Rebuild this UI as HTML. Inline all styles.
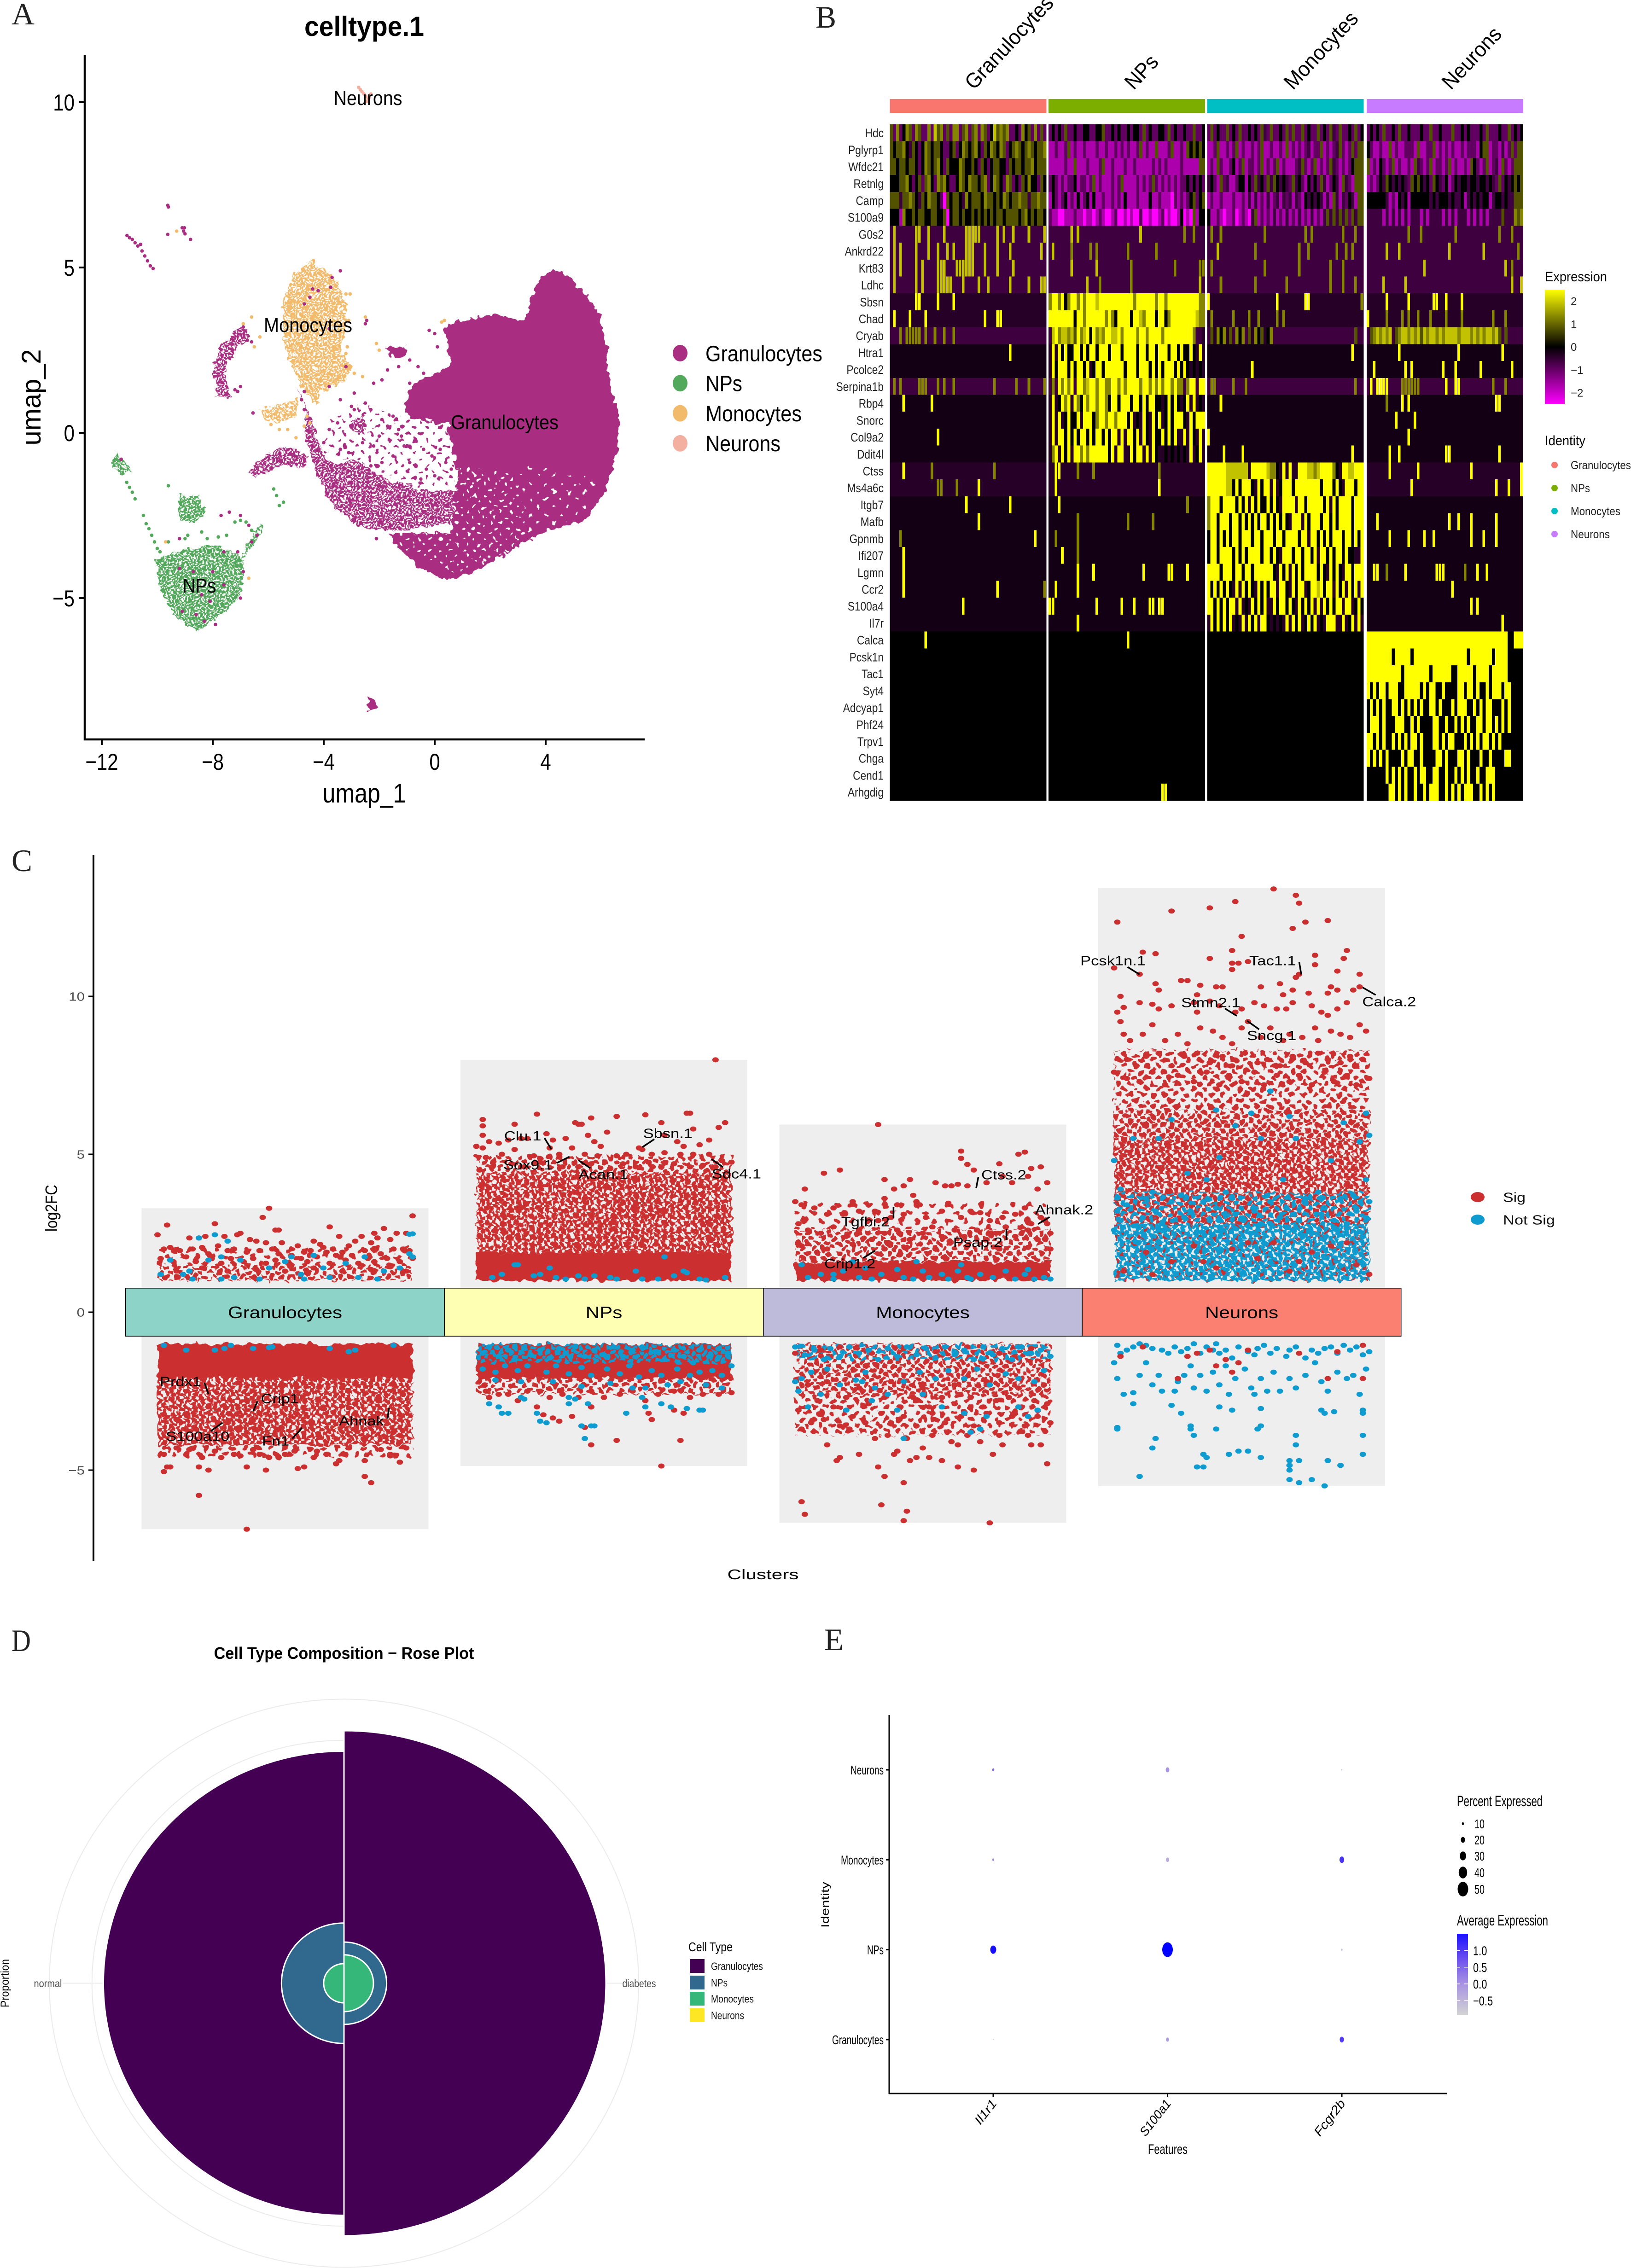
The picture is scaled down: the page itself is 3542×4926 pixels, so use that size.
<!DOCTYPE html>
<html lang="en"><head><meta charset="utf-8"><title>Single-cell figure panels A–E</title>
<style>html,body{margin:0;padding:0;background:#fff}svg{display:block}text{font-family:"Liberation Sans",sans-serif}</style></head>
<body>
<svg id="figure" xmlns="http://www.w3.org/2000/svg" width="3542" height="4926" viewBox="0 0 3542 4926">
<defs id="defs">
<linearGradient id="expr-grad" x1="0" y1="0" x2="0" y2="1"><stop offset="0" stop-color="#ffff00"/><stop offset=".5" stop-color="#000"/><stop offset="1" stop-color="#ff00ff"/></linearGradient>
<linearGradient id="avg-grad" x1="0" y1="0" x2="0" y2="1"><stop offset="0" stop-color="#1a10ff"/><stop offset=".3" stop-color="#6a4df0"/><stop offset=".62" stop-color="#a893e2"/><stop offset="1" stop-color="#d3d3d3"/></linearGradient>
<filter id="rough-a" filterUnits="userSpaceOnUse" x="0" y="0" width="3542" height="1800" color-interpolation-filters="sRGB"><feTurbulence type="fractalNoise" baseFrequency=".07" numOctaves="2" seed="4" result="n"/><feDisplacementMap in="SourceGraphic" in2="n" scale="20" xChannelSelector="R" yChannelSelector="G"/></filter>
<filter id="rough-c" filterUnits="userSpaceOnUse" x="0" y="1800" width="3542" height="1700" color-interpolation-filters="sRGB"><feTurbulence type="fractalNoise" baseFrequency=".06" numOctaves="2" seed="9" result="n"/><feDisplacementMap in="SourceGraphic" in2="n" scale="20" xChannelSelector="R" yChannelSelector="G"/></filter>
</defs>
<rect width="3542" height="4926" fill="#fff"/>
<g id="pa"></g>
<g id="pb"></g>
<g id="pc"></g>
<g id="pd"></g>
<g id="pe"></g>
</svg>
<script>
/* ===== Panel A data (umap_1, umap_2 pairs) ===== */
const umapXTicks=[-12,-8,-4,0,4];
const umapYTicks=[-5,0,5,10];
const umapCellTypes=['Granulocytes','NPs','Monocytes','Neurons'];
const granMainRegion=[4.30,4.94,5.05,4.54,5.89,3.66,6.17,2.54,6.30,1.42,6.64,.46,6.55,-.65,6.08,-1.85,5.33,-2.65,4.20,-2.89,3.08,-3.37,2.14,-3.85,1.20,-4.25,.36,-4.44,-.49,-4.09,-1.24,-3.53,-1.61,-3.08,-.68,-3.05,.64,-3.05,.83,-1.29,.73,-.81,.45,.30,-.86,.46,-1.09,.86,-.68,1.50,.08,1.82,.64,2.06,.45,2.86,.36,3.18,1.20,3.42,2.14,3.58,3.26,3.34,3.45,3.98,3.83,4.62];
const granArcRegion=[-4.95,1.42,-4.71,.78,-4.62,-.18,-4.24,-1.29,-3.68,-2.25,-2.55,-2.89,-1.43,-2.97,.64,-2.73,.83,-1.77,-.68,-1.69,-1.80,-1.37,-2.93,-.81,-3.68,-.97,-4.05,-.65,-4.43,.30];
const granSparseRegion=[-3.68,.46,-2.55,.94,-1.05,.46,.64,.14,.83,-1.61,-.68,-1.69,-2.93,-.81,-4.05,-.65];
const granSpeckleLower=[.83,-.97,3.08,-1.29,3.26,-3.37,.83,-4.3,-1.43,-3.39,-.68,-3.05,.64,-3.05];
const granSpeckleRight=[3.08,-.97,5.89,-1.29,5.33,-2.57,3.26,-3.05];
const granLeftArc=[-6.96,3.26,-6.59,2.86,-7.24,2.46,-7.58,1.90,-7.34,1.02,-7.80,1.02,-7.99,1.90,-7.71,2.62];
const granStreak=[-6.77,-1.13,-5.93,-.58,-5.37,-.42,-4.52,-.73,-4.71,-1.05,-5.55,-.97,-6.49,-1.37];
const granSmallA=[-1.71,2.54,-1.05,2.62,-1.15,2.30,-1.61,2.35];
const granSmallB=[-3.11,.30,-2.55,.62,-2.46,-.02,-2.93,.06];
const granBottom=[-2.40,-8.0,-1.99,-8.24,-2.36,-8.40];
const npsMainRegion=[-10.06,-3.85,-9.31,-3.61,-7.99,-3.37,-7.43,-3.53,-6.87,-3.85,-6.96,-4.97,-7.62,-5.45,-8.56,-6.01,-9.31,-5.61,-9.87,-4.81];
const npsUpperRegion=[-9.21,-1.85,-8.56,-1.90,-8.22,-2.41,-8.74,-2.81,-9.21,-2.65];
const npsArmRegion=[-6.87,-3.53,-6.30,-2.73,-6.12,-2.81,-6.49,-3.37,-6.96,-3.85];
const npsTipRegion=[-11.71,-.97,-11.46,-.61,-10.90,-1.13,-11.27,-1.29];
const monoMainRegion=[-4.43,5.22,-3.68,4.78,-3.21,3.98,-3.21,3.18,-3.40,2.54,-3.02,1.98,-3.30,1.50,-4.05,1.26,-4.24,.86,-4.71,1.26,-5.18,2.06,-5.46,2.70,-5.46,3.98,-5.08,4.78];
const monoSmallRegion=[-6.30,.70,-5.55,.86,-4.90,1.02,-4.99,.46,-5.74,.30,-6.12,.38];
const granDots=[-11.09,5.97,-11,5.9,-10.9,5.85,-10.8,5.75,-10.7,5.65,-10.55,5.5,-10.45,5.35,-10.35,5.2,-10.25,5.05,-10.15,4.97,-10.6,5.7,-9.62,6.88,-9.6,6.83,-9.62,6,-9.1,6.2,-9.05,6.1,-9,6.02,-9.02,6.2,-8.8,5.85,-3.8,1.4,-3,.8,-2.9,.7,-2.7,.2,-3.5,.3,-3.8,.1,-4,-.3,-3.4,-.5,-3.1,-.6,-2.6,-.3,-2.2,-.4,-2,-.1,-1.9,.4,-2.3,.7,-1.5,.5,-1.3,.1,-1.1,-.4,-.7,-.2,-.4,-.5,-.1,-.7,.2,-.5,.4,-.9,.6,-1.1,-.3,-1.1,-.9,-.9,-1.5,-.7,-1.9,-.9,-2.3,-1,-1.4,-1.2,-.5,-1.4,0,-1.3,-1.2,-.1,-1.7,.2,-2.9,1.2,-2.2,1.5,-1.7,1.9,-1.3,2,-.9,2.2,-.6,2,-.4,1.8,-.9,1.5,-1.9,1.6,-2.5,.9,-3.4,1,-.2,3.1,0,3,.1,2.6,.9,-1.4,1.6,-1.2,1.8,-.6,1.4,-.2,1.7,.1,1.5,-1.7,1.2,-2.1,.95,-2.6,1.3,-3.4,-.1,-3.3,-.3,-3.6,-2.1,-3.2,-6.9,3.2,-6.75,2.8,-6.6,2.75,-7.2,1.3,-7,1.4,-7.1,1.25,-6.55,.6,-4.5,4.1,-4.2,4.3,-4.4,4.35,-3.4,4.9,-3.7,4.7,-3.75,4.4,-4.7,3.9,-3.8,3.15,-3.2,2,-2.5,3.3,-2.45,3.4,-4.7,1.25,-4.8,1,-4.7,.7,-9.2,-3.2,-7.7,-2.5,-7.4,-2.4,-7,-2.5,-6.7,-2.8,-6.6,-3.3,-6.4,-3.1,-7.1,-3.6,-7.6,-3.6,-8,-4.2,-8.7,-4.2,-9.2,-4.1,-8.4,-4.9,-8.1,-5.1,-7.6,-4.6,-7,-5,-6.9,-4.2,-9.1,-5.4,-8.3,-5.7,-8.6,-5.5,-7.9,-5.8,-11.3,-.8];
const npsDots=[-11.1,-1.5,-11,-1.65,-10.9,-1.8,-10.8,-2,-10.5,-2.5,-10.4,-2.75,-10.3,-2.9,-10.2,-3.1,-10.1,-3.3,-10,-3.5,-9.9,-3.6,-9.6,-3.3,-9,-3.2,-8.9,-3.1,-8.4,-3,-8.2,-3.2,-7.8,-3.15,-7.5,-3.1,-7.2,-2.7,-7,-2.65,-6.8,-2.7,-6.6,-2.95,-9.6,-1.6,-5.8,-1.7,-5.7,-1.9,-5.6,-2.2,-5.45,-2.1];
const monoDots=[-3.1,3.4,-2.5,3.5,-2.1,2.7,-2,2.5,-6.9,3.3,-6.6,3.5,-6.3,2.9,-6.5,2.6,-4.5,.3,-4.6,.5,-5,-.15,-5.9,.25,-3,.8,-2.9,1.8,-2.6,1.7,-5.3,.1,-5.6,.1,-3.2,4.2,-3.05,4.2,-3.3,2.9,-3.15,2.6,-3.2,2.4,-4.7,.2,.25,3.35,.35,3.4,-9.3,6.1,-9.7,-3.3,-6.7,-4.4];
const neuronDots=[-2.74,10.45,-2.68,10.38,-2.62,10.32,-2.55,10.25,-2.48,10.18,-2.4,10.1,-2.35,10.15,-2.45,10.02,-2.3,10.25];
const umapLegendWidths=[254,80,209,163];

/* ===== Panel B data ===== */
const geneNames=['Hdc','Pglyrp1','Wfdc21','Retnlg','Camp','S100a9','G0s2','Ankrd22','Krt83','Ldhc','Sbsn','Chad','Cryab','Htra1','Pcolce2','Serpina1b','Rbp4','Snorc','Col9a2','Ddit4l','Ctss','Ms4a6c','Itgb7','Mafb','Gpnmb','Ifi207','Lgmn','Ccr2','S100a4','Il7r','Calca','Pcsk1n','Tac1','Syt4','Adcyap1','Phf24','Trpv1','Chga','Cend1','Arhgdig'];
const heatGroups=['Granulocytes','NPs','Monocytes','Neurons'];
const levelValues={'0':-2.5,'1':-1.7,'2':-.95,'3':-.62,'4':-.38,'x':-.2,'5':0,'6':.8,'7':1.3,'8':1.9,'9':2.5};
const rowBase=['2','2','2','2','2','2','3','3','3','3','4','4','3','x','x','3','x','x','x','x','4','4','x','x','x','x','x','x','x','x','5','5','5','5','5','5','5','5','5','5'];
/* a string lists per-column levels; an array lists the bright columns over the row base (negative = olive) */
const heatGran=["62725762762272867262772672672762586767225275627262","65667536525765665225625765675265765762567656765667","66566566525765675265557655652652566552656656675666","55566752562675276752257657665672576527625265755265","66636676536576652065665375666576656576566766366766","55517556566556655605665655656565656656666567565665",
[1,8,9,12,17,24,25,26,27,28,34,36,39,44,49],[1,3,8,12,15,18,20,24,25,26,30,34,38,48],[1,3,8,10,15,16,17,21,22,23,24,25,26,30,34,39],[1,8,10,15,16,17,18,19,23,28,31,38,44,48,49],
[8,9,15,20],[1,6,11,30,34,35],[-3,-5,-6,-7,-8,-9,-11,-14,-17,-20],[38],[],[-1,-3,-9,-10,-11,-15,-17,-20,-33,-40,-44,-49],[4,13],[],[15],[],[4,-13,-33],[-15,-16,-21,28],[24,38],[28],[-3,46],[4],[4],[4,34,-49],[23],[],
[11],[],[],[],[],[],[],[],[],[]];
const heatNPs=["25252622522552255622525225255262522552625225226225","11211261211211121121121212112612116111261121656565","11111211611121112611211121121111121212111121111166","25212122512212612111212611112121262121212122525252","15212512151251511211212151112111511211102121256256","21100111211011012100120010100200100120100150106155",
[7,9,29,-43,-46],[1,-7,-13,-15,-25,-34],[7,15,-26,-40,-48,-49],[12,-16,-26,48],
"79979579979799989999999999979999997997999999999977","99999999599799999979759999599879995995799999999877","38978878697895978799889799997997999979999999997334","49495955995959959995999599995995995999599595595494","49599959599594599599999959995999595959995959545454","37397979399789979977997979999799797979979773799399","49459794975979979975995999599595995545959545949454","49494595594999579979979995945495495945959995495999","49499595959959599595994949959495495595959449495494","47949594997979999995949944959949495445454545494594",
[2,3,-9,-14,-35],[2,35],[3,-44],[-9,-25,-33],[-2,-9],[4,-9],[9,14,30,38,39,44],[2,9],[0,1,15,23,27,32,33,35,36],[9],
[25],[],[],[],[],[],[],[],[],[36,37]];
const heatMono=["26252262526225252632622526262262522625263262252625","11261121261211212611211216121212312261212362126266","12162112512612212612126121112362126121263212125666","35216231125515263526365353263521525263125316321666","12112111211213131213123132313215353531316313253166","51121011201210361212131213121312131213636363626366",
[-1,-4,-18,-31,-33,-43,-47],[3,-15,-29,-32,-41,-44,-46],[-1,-18,-29,-39,-43],[-4,-15,-25,-39,-43,-47],
[-0,22,31,32,-49],[-1,-8,-13,-16,-22,-24],"36475746375736475645733333333333333333333333333633",[46],[14],[-1,-2,-8,-12,-47],[4],[],[0],[5,11,46],
"99999988888884999998775494944999887899997549988999","99999988595999549599494599959999999959995954999599","79995999959594959559595499994995999995949599995999","79959995995959595995959595499949599959959599995999","59959595995999599599959959999599499595959995995959","59959999595959999599595499959959959499595995955449","99995999599599599999954959495959999595495954995999","95959595494959549595994995495994599895994959495949","99595959949454959594495995954959594949595994994595","49595959454949594995454549495945959454999449459494",
[],[],[],[],[],[],[],[],[],[]];
const heatNeurons=["25252622526225222522622522262252522252622252262525","52112116121122216112261212121121222156612213126266","61215212612112163212612212612112165212612316212666","12125365353532656535265325125355355355353262535656","55555531215351555555353555353351353535513553533666","33333131313131333131333313131333131313133336333767",
[-13,-17,-28,-42,-46],[6,10,26,37,-48],[18,44,-46],[5,12,46,49],
[6,13,21,22,25,30],[-0,-6,-11,-13,-16,-20,-25,-30,-40,-44],"36787878367887878687887878888788878787887863633333",[10,29,43],[2,12,14,24,28,36,46],[1,3,4,5,6,-11,-12,-13,-14,-15,-16,25,28,29,-40,-44],[-6,11,13,41,42],[9,15],[13],[7,10,25,26,42],
[7,16,33,49],[14,41,45,49],[],[3,26,29,33,41],[7,13,18,21,33,37,41],[],[2,3,-6,12,22,23,24,-31,35,38],[27],[33,35],[43],
"99999999999999999999999999999999999999999999955999","99999999599999599999999999999999599999995999955555","99999999999599999999599999955999995999959999955555","95959959995599999595995595555995995955959995995555","59595955995959595955995955595999559595995559595555","59995955599955959555599559559595955995995959595555","99595955959595995955599595995559595959959595555555","95959595555959955955559959555995955595595555995555","55555595959595595995599559559595955955999555555555","55555559959595595595999559595959995595959555555555"];
const exprTicks=[2,1,0,-1,-2];

/* ===== Panel C data: flat [jitter %, log2FC] pairs ===== */
const clusterNames=['Granulocytes','NPs','Monocytes','Neurons'];
const volcanoTicks=[-5,0,5,10];
const clusterTop=[3.29,7.99,5.94,13.43];
const clusterBottom=[-6.87,-4.87,-6.67,-5.51];
/* dense clouds summarised as bands: column, log2FC range, series, share of area covered */
const bandColumn=[0,0,0,0,0, 1,1,1,1,1,1, 2,2,2,2,2,2, 3,3,3,3,3,3,3];
const bandLow=[1,1.45,-1,-2.1,-4.2, 1,1.9,4.4,-1,-2.1,-1, 1,1.6,2.6,-1,-1,-2.6, 3.8,5.5,6.4,2.8,2.8,1,1];
const bandHigh=[1.45,2.1,-2.1,-4.2,-4.6, 1.9,4.4,4.95,-2.1,-2.6,-1.6, 1.6,2.6,3.5,-2.6,-1.5,-3.9, 5.5,6.4,8.3,3.8,3.8,2.8,2.8];
const bandSeries=['sig','sig','sig','sig','sig', 'sig','sig','sig','sig','sig','not', 'sig','sig','sig','sig','not','sig', 'sig','sig','sig','sig','not','sig','not'];
const bandDensity=[.55,.25,1,.95,.3, 1,.95,.5,1,.5,.6, 1,.5,.2,.6,.35,.35, .85,.6,.38,.8,.4,.35,.9];
const granUpSig=[-5,3.29,-7,3,40,3.05,-37,2.76,-22,2.8,-40,2.45,-14,2.5,14,2.7,31,2.65,28,2.5,-3,2.6,-2,2.6,17,2.4,24,2.4,29,2.35,35,2.5,38,2.5,-30,2.35,-27,2.35,-25,2.4,-19,2.4,-15,2.45,-11,2.3,-9,2.25,-6,2.2,-1,2.2,4,2.1,9,2.25,11,2.15,15,2,20,2.1,22,2.25,27,2.2,33,2.3,37,2,-38,2,-36,2.05,-33,1.95,-29,2,-26,2.05,-24,1.85,-21,2.1,-18,1.95,-16,2,-12,1.9,-8,1.95,-4,2,-2,1.85,2,1.8,6,1.9,8,1.95,12,2.05,13,1.9,16,1.8,18,1.9,21,1.8,25,1.95,30,1.85,34,2,39,1.95,-39,1.7,-35,1.6,-31,1.75,-28,1.6,-23,1.7,-20,1.55,-17,1.7,-13,1.6,-10,1.7,-6,1.55,-3,1.65,1,1.55,5,1.7,7,1.6,10,1.75,14,1.55,19,1.65,23,1.55,26,1.7,28,1.6,32,1.7,36,1.6,40,1.7,-34,1.3,-26,1.4,-18,1.3,-9,1.35,0,1.3,9,1.4,18,1.3,27,1.35,38,1.3];
const granUpNot=[-27,2.35,-22,2.45,-18,2.25,40,2.48,39,2.47,-36,1.65,-39,1.2,-32,1.2,-30,1.3,-24,1.65,-20,1.75,-14,1.65,-5,1.4,0,1.6,2,1.75,9,1.8,12,1.4,19,1.55,25,1.75,31,1.3,36,1.4,40,1.75,-29,1.05,-20,1.05,-16,1.1,-8,1.05,5,1.2,6,1.05,14,1.1,23,1.1,29,1.05,39,1.85];
const granDownSig=[-38,-4.5,-37,-4.9,-36,-4.9,-38,-5.05,-27,-4.9,-24,-5,-26,-4.6,-20,-4.6,-16,-4.5,-14,-4.55,-12,-4.9,-8,-4.5,-5,-4.6,-6,-5,-2,-4.6,0,-4.5,4,-4.95,6,-4.9,9,-4.6,13,-4.5,16,-4.8,17,-4.7,25,-4.7,25,-5.2,27,-5.4,33,-4.5,33,-4.55,36,-4.75,-27,-5.8,-12,-6.87,-34,-4.3,-30,-4.35,-22,-4.4,-10,-4.35,3,-4.4,10,-4.4,20,-4.3,30,-4.35,38,-4.3,-34,-3.4,-28,-3.7,-24,-3,-18,-3.5,-12,-2.8,-8,-3.2,-2,-3.7,3,-2.7,8,-3.5,12,-3,18,-3.6,22,-2.9,28,-3.3,34,-3.8,37,-2.6];
const granDownNot=[-38,-1.05,-31,-1.2,-22,-1.2,-19,-1.15,-17,-1.05,-10,-1.15,-5,-1.12,-4,-1.1,14,-1.15,20,-1.25,22,-1.2,34,-1.05];
const npUpSig=[35,7.99,-38,6.1,-38,5.9,-38,5.6,-28,5.95,-21,6.27,-9,6,-8,5.95,-7,5.95,4,6.2,13,6.25,26,6.3,27,6.3,18,6,28,5.8,36,5.85,38,6,-4,6.15,-40,5.25,-38,5.2,-36,5.4,-33,5.35,-30,5.45,-26,5.5,-24,5.5,-18,5.65,-16,5.45,-12,5.5,-5,5.6,-3,5.4,1,5.7,-1,5.25,11,5.2,12,5.15,19,5.6,23,5.4,25,5.25,30,5.3,33,5.45,-37,4.9,-32,5,-28,5.15,-22,4.95,-17,5.2,-14,5,-10,5.2,-6,5,-2,4.95,4,4.95,7,5,15,5,19,5.05,24,5,28,5,33,5,37,4.8,40,4.75,-35,4.6,-29,4.7,-25,4.6,-20,4.75,-13,4.6,-8,4.6,-4,4.7,2,4.55,6,4.7,10,4.6,14,4.75,18,4.6,22,4.7,27,4.6,31,4.65,35,4.6,-39,4.5,-38,4.05,-33,3.6,-26,3.3,-20,4,-12,3.2,-6,3.6,3,3.05,10,3.4,18,3.2,26,3.7,33,2.8];
const npUpNot=[-35,1.1,-32,1.2,-28,1.5,-27,1.5,-22,1.15,-20,1.2,-17,1.4,-15,1.1,-6,1.05,-3,1.15,2,1.1,4,1.05,10,1.3,12,1.05,17,1.05,19,1.75,22,1.15,25,1.3,26,1.25,30,1.05,32,1.02,38,1.1,-12,1.05,-8,1.15];
const npDownSig=[-37,-2.5,-36,-2.7,-33,-2.6,-30,-2.6,-27,-2.8,-24,-2.5,-20,-2.5,-17,-2.7,-13,-2.6,-8,-2.7,-4,-2.5,0,-2.7,5,-2.6,9,-2.5,13,-2.8,17,-2.6,22,-2.5,27,-2.7,31,-2.6,36,-2.6,40,-2.55,-21,-3,-19,-3.25,-16,-3.35,-14,-3.45,-10,-3.3,-4,-3,-4,-3,14,-3.2,15,-3.4,22,-3.1,25,-3.2,-4,-3,-6,-3.65,4,-4.06,-4,-4.2,24,-4.06,18,-4.87];
const npDownNot=[-38,-1.3,-36,-1.1,-33,-1.4,-30,-1.2,-28,-1.5,-25,-1.15,-23,-1.35,-20,-1.2,-17,-1.45,-14,-1.15,-12,-1.3,-9,-1.1,-6,-1.4,-3,-1.2,0,-1.35,3,-1.1,6,-1.4,9,-1.2,12,-1.1,16,-1.25,19,-1.5,22,-1.2,25,-1.4,28,-1.6,30,-1.2,33,-1.4,36,-1.15,39,-1.3,-38,-1.8,-34,-1.9,-31,-1.7,-27,-1.85,-24,-1.7,-18,-1.9,-15,-1.7,-11,-1.95,-7,-1.75,-4,-2,1,-1.8,5,-1.95,8,-1.7,11,-2.05,15,-1.85,18,-2,23,-1.8,27,-2,30,-1.9,34,-1.85,37,-2,40,-1.7,-34,-2.15,-26,-2.2,-16,-2.2,-7,-2.35,2,-2.25,9,-2.4,13,-2.4,20,-2.3,24,-2.2,32,-2.3,37,-2.4,-36,-2.9,-33,-3,-32,-3.2,-30,-3.2,-26,-2.7,-25,-2.75,-21,-3.2,-20,-3.45,-18,-3.5,-11,-2.7,-11,-2.9,-9,-2.75,-5,-2.9,7,-3.2,12,-2.7,13,-3,18,-2.9,21,-3,26,-3.05,30,-3.1,31,-3.1,-7,-3.6,-7,-3.6,-6,-4,-4,-3.6,-3,-3.6];
const monoUpSig=[-14,5.94,12,5.1,32,5.07,30,5,12,4.87,14,4.68,16,4.5,-31,4.4,-26,4.5,24,4.7,34,4.55,37,4.6,39,4.1,-37,3.9,-40,3.5,-38,3.4,-22,3.5,-12,4.2,-12,3.6,-9,3.9,-6,4,-4,4.2,-3,3.7,-2,3.5,-8,3.4,4,4.1,7,4,9,4,11,4.05,14,4,20,4.1,25,4.3,28,4.1,33,4.3,36,3.9,-34,3.3,-30,3.1,-28,3.3,-25,3.1,-20,3.2,-15,3.2,-14,2.9,-10,3,-6,3.1,-1,3.4,1,3,6,3.2,8,3.45,12,3,15,3.2,18,3.15,21,2.9,25,3,29,3.1,32,3.3,34,2.8,37,3,39,2.8,-39,2.8,-36,2.6,-32,2.5,-28,2.7,-24,2.4,-20,2.6,-16,2.3,-12,2.5,-8,2.6,-4,2.3,0,2.5,3,2.7,6,2.4,10,2.6,13,2.4,17,2.6,20,2.3,23,2.5,26,2.7,29,2.4,33,2.6,36,2.3,40,2.5,-38,2.1,-30,2,-22,2.15,-12,2,-5,2.05,4,2,14,2.1,24,2,33,2.05,40,2];
const monoUpNot=[-36,1.1,-32,1.2,-28,1.05,-25,1.3,-22,1.6,-20,1.1,-16,1.05,-13,1.2,-8,1.35,-6,1.1,-3,1.05,0,1.3,2,1.1,6,1.2,8,1.05,11,1.3,14,1.1,15,1.05,18,1.2,22,1.1,26,1.3,29,1.05,32,1.2,35,1.05,38,1.1,40,1.05,-38,1.5,-2,1.6,-28,1.2,-18,1.4,12,1.5,33,1.35];
const monoDownSig=[-12,-5.2,-38,-6,-37,-6.4,-13,-6.1,-6,-6.6,-5,-6.3,21,-6.67,-6,-5.4,16,-5,6,-4.7,-14,-4.9,-9,-4.5,-8,-4.4,-4,-4.7,-2,-4.6,2,-4.6,6,-4.7,11,-4.9,22,-4.5,34,-4.2,39,-4.8,-30,-4.2,-27,-4.7,-26,-4.6,-23,-3.7,-20,-4.5,-15,-4,-11,-3.9,-5,-4,0,-4.3,3,-3.9,9,-4.1,11,-4.2,14,-3.9,18,-4.1,24,-3.9,25,-4.2,33,-3.9,37,-4.2,-38,-3.7,-35,-3.5,-31,-3.4,-26,-3.6,-22,-3.3,-18,-3.5,-13,-3.2,-10,-3.5,-6,-3.3,-2,-3.6,3,-3.2,7,-3.5,12,-3.3,16,-3.6,20,-3.2,24,-3.5,28,-3.3,32,-3.6,36,-3.3,40,-3.5,-39,-3.1,-33,-2.8,-28,-3,-24,-2.7,-17,-2.9,-12,-2.7,-7,-3,-3,-2.7,2,-3,6,-2.7,10,-2.9,15,-2.7,19,-3,23,-2.8,27,-2.7,31,-3,35,-2.8,39,-2.9,-36,-2.3,-30,-2.2,-20,-2.4,-10,-2.2,0,-2.4,10,-2.3,20,-2.2,30,-2.4,38,-2.3,-40,-1.3,-32,-1.2,-26,-1.1,-16,-1.3,-6,-1.15,4,-1.25,14,-1.1,24,-1.3,34,-1.15];
const monoDownNot=[-40,-1.1,-37,-1.35,-34,-1.2,-31,-1.5,-29,-1.15,-26,-1.4,-23,-1.1,-20,-1.3,-17,-1.2,-14,-1.5,-11,-1.15,-8,-1.4,-5,-1.1,-2,-1.35,1,-1.15,4,-1.45,7,-1.1,10,-1.35,13,-1.2,16,-1.5,19,-1.1,22,-1.35,25,-1.15,28,-1.5,31,-1.1,34,-1.3,37,-1.2,40,-1.4,-38,-2.1,-35,-1.9,-30,-1.8,-26,-2.3,-21,-2.15,-18,-1.9,-19,-2.2,-15,-2.4,-11,-2.6,-6,-2.2,-1,-1.9,4,-2.1,8,-1.85,13,-2.1,17,-1.8,21,-2.3,26,-1.95,30,-2.1,35,-2.2,38,-1.85,-39,-2.5,-36,-3,-32,-2.6,-24,-3.1,-16,-2.8,-8,-3.1,0,-2.6,6,-3,13,-3.2,20,-3.3,30,-3,33,-3.3,36,-3.1,-6,-4,15,-3.8,18,-3.7,-40,-2.2];
const neurUpSig=[10,13.4,17,13.2,18,12.95,-2,13,-10,12.8,-22,12.7,-39,12.35,20,12.35,27,12.4,16,12.15,0,11.9,33,11.45,-3,11.45,23,11.3,-31,11.4,-27,11.35,-10,11.2,32,11.2,23,11,-40,10.9,-3,11.05,-1,11.05,-3,10.85,2,11.1,30,10.8,37,10.7,17,10.6,18,10.7,-32,10.7,-27,10.4,-26,10.2,-19,10.5,-17,10.5,-13,10.35,-14,10.05,-8,10.3,-6,10.3,6,10.3,12,10.4,13,10.05,16,10.2,21,10.1,27,10.1,28,10.3,30,10.2,35,10.2,37,10.3,-38,10,-37,9.65,-32,9.8,-28,9.75,-26,9.6,-22,9.7,-15,9.8,-14,9.5,-10,9.85,-7,9.7,-2,9.5,0,9.6,4,9.8,7,9.7,11,9.6,14,9.6,16,9.8,22,9.7,25,9.5,27,9.4,30,9.6,33,9.8,-39,9.5,-38,9.2,-37,8.8,-35,8.6,-31,8.8,-28,9.1,-24,8.6,-20,8.8,-17,8.5,-13,9,-9,8.9,-6,8.7,-3,8.5,0,9,2,9.2,6,8.7,9,9,13,8.6,15,8.8,19,8.7,23,9,24,8.6,28,8.9,31,8.8,34,8.7,37,9.1,39,8.9,-36,8,-33,7.8,-30,8.1,-26,8.2,-22,7.8,-18,8.1,-14,8.2,-10,7.9,-6,8.1,-3,7.8,1,8.2,5,7.9,8,8,12,7.8,16,8.1,20,7.9,24,8.2,27,8,31,7.9,34,8.1,38,8,-40,7.6,-36,7.4,-32,7.3,-28,7.6,-24,7.2,-20,7.5,-15,7.3,-11,7.6,-7,7.2,-4,7.5,0,7.3,4,7.6,7,7.2,11,7.5,15,7.3,18,7.5,22,7.2,26,7.6,29,7.3,33,7.5,36,7.2,40,7.4];
const neurUpNot=[9,7,-22,6.1,-8,6.4,-2,5.9,3,6.3,15,6.2,32,6,39,6.3,-40,4.8,-34,5.5,-26,5.5,-17,4.4,-7,4.9,6,5.5,17,5.5,28,4.8,37,5.4,40,5.6,-38,3.9,-28,3.8,-19,3.7,-11,4.2,-5,3.8,8,3.7,13,4.2,24,3.8,35,3.7,39,4.2,-39,3.2,-36,3.4,-30,3.6,-27,3.2,-22,3.5,-16,3.2,-12,3.5,-8,3.3,-3,3.6,4,3.2,9,3.5,14,3.3,20,3.6,26,3.3,31,3.6,36,3.2,40,3.5,-38,2.9,-31,3,-25,2.8,-18,3,-10,2.9,-2,3.1,6,2.8,12,3,18,2.9,25,3.1,33,2.8,39,3,-40,2.6,-33,2.5,-26,2.6,-14,2.55,-6,2.6,3,2.5,16,2.6,22,2.5,30,2.6,37,2.55];
const neurUpSigLow=[-37,1.3,-30,1.9,-22,1.6,-15,2.1,-8,1.4,-3,2,5,1.7,10,2.2,15,1.3,22,1.9,28,2.1,36,1.5,-28,1.2,-12,1.6,2,2.2,18,1.6,33,2.2,40,1.2];
const neurDownNot=[-39,-1.05,-38,-1.3,-36,-1.2,-34,-1.1,-32,-1,-30,-1.05,-28,-1.15,-25,-1.2,-23,-1.3,-21,-1.1,-19,-1.25,-17,-1.15,-15,-1,-13,-1.3,-11,-1.1,-9,-1.2,-8,-1,-7,-1.3,-5,-1.2,-3,-1.45,-1,-1.1,2,-1.25,4,-1.35,5,-1.15,7,-1.05,9,-1.3,11,-1.15,14,-1.4,15,-1.2,17,-1.1,20,-1.45,22,-1.2,24,-1.3,26,-1.15,28,-1.1,30,-1.3,32,-1.05,34,-1.2,36,-1.1,38,-1.35,40,-1.25,-40,-1.6,-39,-2.1,-37,-2.6,-34,-2.55,-32,-2,-30,-1.6,-28,-2.3,-26,-2,-25,-2.5,-21,-2.5,-20,-2.2,-18,-2,-16,-1.7,-15,-2.4,-13,-2,-11,-2.5,-9,-1.9,-7,-2.3,-5,-1.7,-4,-2.6,-2,-2.1,1,-1.8,3,-2.4,4,-2.6,6,-2.1,8,-2.5,10,-1.9,12,-2.5,15,-2.1,17,-2.4,20,-2,23,-1.6,25,-2.2,27,-2.5,30,-1.9,33,-2.1,35,-2,37,-2.6,39,-1.8,-34,-2.9,-22,-2.95,-19,-3.2,-7,-3,-3,-3.1,6,-3.05,25,-3.1,26,-3.2,29,-3.15,38,-3.1,38,-3.2,-39,-3.7,-39,-3.65,-16,-3.6,-16,-3.7,-15,-3.9,-8,-3.7,5,-3.7,6,-3.6,17,-3.9,17,-4.2,38,-3.9,-27,-4,-28,-4.3,-12,-4.5,-11,-4.6,-4,-4.5,-1,-4.4,2,-4.4,6,-4.6,15,-4.7,15,-4.85,18,-4.7,27,-4.7,31,-4.85,38,-4.5,-32,-5.2,-14,-4.9,-12,-4.9,15,-5,15,-5.3,18,-5.4,22,-5.3,26,-5.5,31,-4.85];
const neurDownSig=[-31,-1.1,-17,-1.4,-14,-1.3,-10,-1.2,-8,-1.7,-5,-1.5,-3,-1.9,2,-1.2,18,-1.3,27,-2.1,38,-1.05,-38,-1.4,30,-1.25,-20,-2.1,-1,-1.6,38,-2.1];
const sigLegendLabels=['Sig','Not Sig'];

/* ===== Panel D data: stacked share per condition, order Granulocytes, NPs, Monocytes, Neurons ===== */
const roseTypes=['Granulocytes','NPs','Monocytes','Neurons'];
const roseNormal=[.605,.143,.069,0];
const roseDiabetes=[.744,.045,.1,0];
const roseGrid=[1,.855];

/* ===== Panel E data ===== */
const dotFeatures=['Il1r1','S100a1','Fcgr2b'];
const dotIdentities=['Neurons','Monocytes','NPs','Granulocytes'];
const dotPercentNeurons=[10,17,5];
const dotPercentMonocytes=[9,15,22];
const dotPercentNPs=[28,50,7];
const dotPercentGranulocytes=[4,14,20];
const dotAvgNeurons=[.4,-.1,-.7];
const dotAvgMonocytes=[0,-.4,.95];
const dotAvgNPs=[1.35,1.5,-.6];
const dotAvgGranulocytes=[-.7,-.2,.9];
const percentLegend=[10,20,30,40,50];
const avgLegend=[1,.5,0,-.5];

/* ===== drawing ===== */
const NS='http://www.w3.org/2000/svg';
const $=id=>document.getElementById(id);
function mk(tag,attrs,parent){const e=document.createElementNS(NS,tag);for(const k in attrs)e.setAttribute(k,attrs[k]);parent.appendChild(e);return e;}
function txt(parent,name,x,y,s,o){o=o||{};
  const t=mk('text',{'font-size':o.size||30,fill:o.fill||'#000','text-anchor':o.anchor||'start','font-weight':o.bold?'bold':'normal'},parent);
  
  
  if(o.italic)t.setAttribute('font-style','italic');
  if(o.serif)t.style.fontFamily='"Liberation Serif",serif';
  if(o.mid)t.setAttribute('dy','.36em');
  t.textContent=s;
  let sx=o.sq||1;
  if(o.w){const len=t.getComputedTextLength();if(len>0)sx=o.w/len;}
  t.setAttribute('transform','translate('+x+','+y+') rotate('+(o.rot||0)+') scale('+sx+',1)');
  return t;}
function line(parent,name,x1,y1,x2,y2,w,c){const l=mk('line',{x1:x1,y1:y1,x2:x2,y2:y2,stroke:c||'#000','stroke-width':w||4},parent);
  
  
  return l;}
function dot(parent,name,cx,cy,rx,ry,c){const d=mk('ellipse',{cx:cx,cy:cy,rx:rx,ry:ry,fill:c},parent);
  
  
  return d;}
function box(parent,name,x,y,w,h,c){const r=mk('rect',{x:x,y:y,width:w,height:h,fill:c},parent);
  
  
  return r;}
/* fill for a region whose points cannot be told apart: staggered dots covering the given share of the area */
let patternCount=0;
function densityFill(color,density,rx,ry){
  if(density>=.97)return color;
  const s=Math.sqrt(2*Math.PI*rx*ry/density),id='density-'+(patternCount++);
  const p=mk('pattern',{id:id,patternUnits:'userSpaceOnUse',width:s.toFixed(2),height:s.toFixed(2)},$('defs'));
  mk('ellipse',{cx:(s*.25).toFixed(2),cy:(s*.25).toFixed(2),rx:rx,ry:ry,fill:color},p);
  mk('ellipse',{cx:(s*.75).toFixed(2),cy:(s*.75).toFixed(2),rx:rx,ry:ry,fill:color},p);
  return 'url(#'+id+')';}

/* panel letters */
const letterRoot=$('figure');
txt(letterRoot,'panel-label-a',25,53,'A',{size:68,serif:1,w:50,fill:'#222'});
txt(letterRoot,'panel-label-b',1771,60,'B',{size:68,serif:1,w:45,fill:'#222'});
txt(letterRoot,'panel-label-c',25,1892,'C',{size:68,serif:1,w:45,fill:'#222'});
txt(letterRoot,'panel-label-d',25,3586,'D',{size:68,serif:1,w:42,fill:'#222'});
txt(letterRoot,'panel-label-e',1790,3584,'E',{size:68,serif:1,w:42,fill:'#222'});

/* ---- A ---- */
(function(){const P=$('pa');
const xU=u=>944+60.25*u, yU=v=>940-71.8*v;
const C={g:'#A92E82',n:'#52A85B',m:'#F2BB6C',r:'#F3B0A0'};
const R=mk('g',{filter:'url(#rough-a)'},P);


function region(arr,c,name,density,rad){let d='';for(let i=0;i<arr.length;i+=2)d+=(i?'L':'M')+xU(arr[i]).toFixed(1)+' '+yU(arr[i+1]).toFixed(1);
  const solid=density>=.97;
  const p=mk('path',{d:d+'Z',fill:densityFill(c,density,rad||3.8,rad||3.8)},R);
  if(solid){p.setAttribute('stroke',c);p.setAttribute('stroke-width',3);}
  
  }
function pts(arr,c,name){for(let i=0;i<arr.length;i+=2)dot(P,name,xU(arr[i]).toFixed(1),yU(arr[i+1]).toFixed(1),3.8,3.8,c);}
region(granMainRegion,C.g,'granulocytes-main-cluster',1);
region(granSpeckleLower,'#fff','granulocytes-speckle-lower',.1,3);
region(granSpeckleRight,'#fff','granulocytes-speckle-right',.05,3);
region(granArcRegion,C.g,'granulocytes-arc-cluster',.92);
region(granSparseRegion,C.g,'granulocytes-sparse-cloud',.12);
region(granLeftArc,C.g,'granulocytes-left-arc',.92);
region(granStreak,C.g,'granulocytes-streak',.92);
region(granSmallA,C.g,'granulocytes-small-cluster',1);
region(granSmallB,C.g,'granulocytes-small-cluster',.85);
region(granBottom,C.g,'granulocytes-bottom-cluster',1);
region(npsMainRegion,C.n,'nps-main-cluster',.95);
region(npsUpperRegion,C.n,'nps-upper-cluster',.88);
region(npsArmRegion,C.n,'nps-arm-cluster',.8);
region(npsTipRegion,C.n,'nps-tip-cluster',.9);
region(monoMainRegion,C.m,'monocytes-main-cluster',.93);
region(monoSmallRegion,C.m,'monocytes-small-cluster',.8);
pts(npsDots,C.n,'nps-point');
pts(monoDots,C.m,'monocytes-point');
pts(granDots,C.g,'granulocytes-point');
pts(neuronDots,C.r,'neurons-point');
line(P,'umap-y-axis',184,120,184,1608,4.5);
line(P,'umap-x-axis',182,1606,1400,1606,4.5);
umapXTicks.forEach(t=>{line(P,'umap-x-tick',xU(t),1606,xU(t),1618,4);
  txt(P,'umap-x-tick-label',xU(t),1672,String(t).replace('-','−'),{size:50,sq:.84,anchor:'middle'});});
umapYTicks.forEach(t=>{line(P,'umap-y-tick',172,yU(t),184,yU(t),4);
  txt(P,'umap-y-tick-label',162,yU(t),String(t).replace('-','−'),{size:50,sq:.84,anchor:'end',mid:1});});
txt(P,'umap-title',791,78,'celltype.1',{size:60,bold:1,w:260,anchor:'middle'});
txt(P,'umap-x-axis-title',791,1743,'umap_1',{size:58,w:181,anchor:'middle'});
txt(P,'umap-y-axis-title',88,863,'umap_2',{size:58,w:209,anchor:'middle',rot:-90});
txt(P,'cluster-label-neurons',799,212,'Neurons',{size:44,w:149,anchor:'middle',mid:1});
txt(P,'cluster-label-monocytes',669,705,'Monocytes',{size:44,w:192,anchor:'middle',mid:1});
txt(P,'cluster-label-granulocytes',1096,916,'Granulocytes',{size:44,w:234,anchor:'middle',mid:1});
txt(P,'cluster-label-nps',433,1271,'NPs',{size:44,w:73,anchor:'middle',mid:1});
[C.g,C.n,C.m,C.r].forEach((c,i)=>{const y=767+i*65.3;dot(P,'umap-legend-swatch',1477,y,16,18,c);
  txt(P,'umap-legend-label',1532,y,umapCellTypes[i],{size:48,w:umapLegendWidths[i],mid:1});});
})();

/* ---- B ---- */
(function(){const P=$('pb');
const groupX=[1932.5,2277,2621.5,2968],groupW=340,cols=50,top=270,rowH=36.72,hitW=5.6;
const barC=['#F8766D','#7CAE00','#00BFC4','#C77CFF'];
const groupAnchor=[2115,2462,2808,3151];
function levelColor(v){const a=Math.min(1,Math.abs(v)/2.5),n=Math.round(255*a);return v>=0?'rgb('+n+','+n+',0)':'rgb('+n+',0,'+n+')';}
const data=[heatGran,heatNPs,heatMono,heatNeurons];
const cw=groupW/cols;
function cell(x,y,w,lv){const c=mk('rect',{x:x.toFixed(1),y:y.toFixed(1),width:w.toFixed(1),height:(rowH+.5).toFixed(1),fill:levelColor(levelValues[lv]),'shape-rendering':'crispEdges'},P);
  
  }
data.forEach((grp,g)=>{
  box(P,'heatmap-group-bar-'+heatGroups[g].toLowerCase(),groupX[g],215,groupW,30,barC[g]);
  txt(P,'heatmap-group-label-'+heatGroups[g].toLowerCase(),groupAnchor[g],197,heatGroups[g],{size:46,rot:-47,sq:.95});
  grp.forEach((row,r)=>{
    for(let c=0;c<cols;c++){
      const x=groupX[g]+c*cw,y=top+r*rowH;
      if(typeof row==='string'){cell(x,y,cw,row[c]||rowBase[r]);continue;}
      cell(x,y,cw,rowBase[r]);
      if(row.indexOf(c)>=0)cell(x,y,hitW,r<10?'8':'9');
      else if(c>0&&row.indexOf(-c)>=0)cell(x,y,hitW,'7');
    }
  });
});
geneNames.forEach((n,r)=>txt(P,'gene-label',1919,top+(r+.5)*rowH,n,{size:27,sq:.84,anchor:'end',mid:1,fill:'#222'}));
txt(P,'expression-legend-title',3355,611,'Expression',{size:30,w:135});
const bar=mk('rect',{x:3355,y:629,width:43,height:249,fill:'url(#expr-grad)'},P);


exprTicks.forEach(t=>{const y=753.5-t*49.8;
  txt(P,'expression-tick-label',3411,y,String(t).replace('-','−'),{size:24,anchor:'start',mid:1,fill:'#222'});});
txt(P,'identity-legend-title',3355,967,'Identity',{size:30,w:88});
const idW=[131,42,108,85];
heatGroups.forEach((n,i)=>{const y=1010+i*50;dot(P,'identity-legend-swatch',3376,y,7,7,barC[i]);
  txt(P,'identity-legend-label',3411,y,n,{size:25,w:idW[i],mid:1,fill:'#222'});});
})();

/* ---- C ---- */
(function(){const P=$('pc');
const xC=(i,j)=>619+692.5*i+j/100*692.5, yC=v=>2850-68.6*v;
const SIG='#CB2F2F',NOT='#0E9BD0';
const bandC=['#8DD3C7','#FFFFB3','#BEBADA','#FB8072'];
clusterNames.forEach((n,i)=>box(P,'cluster-background-'+n.toLowerCase(),xC(i,0)-311.5,yC(clusterTop[i]),623,yC(clusterBottom[i])-yC(clusterTop[i]),'#EEEEEE'));
const R=mk('g',{filter:'url(#rough-c)'},P);


bandColumn.forEach((c,i)=>{const y1=yC(Math.max(bandLow[i],bandHigh[i])),y2=yC(Math.min(bandLow[i],bandHigh[i]));
  const col=bandSeries[i]==='sig'?SIG:NOT;
  const r=mk('rect',{x:xC(c,-40),y:y1,width:xC(c,40)-xC(c,-40),height:y2-y1,fill:densityFill(col,bandDensity[i],7,5.5)},R);
  
  });
function pts(col,arr,c,name){for(let i=0;i<arr.length;i+=2)dot(P,name,xC(col,arr[i]).toFixed(1),yC(arr[i+1]).toFixed(1),7,5.5,c);}
pts(0,granUpSig,SIG,'sig-point');pts(0,granUpNot,NOT,'not-sig-point');pts(0,granDownSig,SIG,'sig-point');pts(0,granDownNot,NOT,'not-sig-point');
pts(1,npUpSig,SIG,'sig-point');pts(1,npUpNot,NOT,'not-sig-point');pts(1,npDownSig,SIG,'sig-point');pts(1,npDownNot,NOT,'not-sig-point');
pts(2,monoUpSig,SIG,'sig-point');pts(2,monoUpNot,NOT,'not-sig-point');pts(2,monoDownSig,SIG,'sig-point');pts(2,monoDownNot,NOT,'not-sig-point');
pts(3,neurUpSig,SIG,'sig-point');pts(3,neurUpNot,NOT,'not-sig-point');pts(3,neurUpSigLow,SIG,'sig-point');pts(3,neurDownNot,NOT,'not-sig-point');pts(3,neurDownSig,SIG,'sig-point');
clusterNames.forEach((n,i)=>{const b=mk('rect',{x:xC(i,0)-346.25,y:yC(.76),width:692.5,height:yC(-.76)-yC(.76),fill:bandC[i],stroke:'#000','stroke-width':1.5},P);
  
  
  txt(P,'cluster-band-label',xC(i,0),yC(0),n,{size:36,sq:1.17,anchor:'middle',mid:1});});
line(P,'volcano-y-axis',203,1857,203,3390,4);
volcanoTicks.forEach(t=>{line(P,'volcano-y-tick',192,yC(t),203,yC(t),3);
  txt(P,'volcano-y-tick-label',184,yC(t),String(t).replace('-','−'),{size:26,sq:1.2,anchor:'end',mid:1,fill:'#4d4d4d'});});
txt(P,'volcano-y-axis-title',124,2624,'log2FC',{size:36,w:102,anchor:'middle',rot:-90});
txt(P,'volcano-x-axis-title',1657,3430,'Clusters',{size:31,w:155,anchor:'middle'});
const annL=[['Prdx1',347,1107,393,1110,401,1133,0],['Crip1',538,1141,495,1147,487,1167,0],['Ahnak',695,1186,748,1160,745,1182,0],['S100a10',380,1217,428,1190,405,1207,0],['Fn1',530,1226,581,1200,562,1222,0],['Clu.1',1005,615,1047,620,1060,642,0],['Sox9.1',1015,673,1095,657,1070,670,0],['Acan.1',1160,692,1112,664,1135,680,0],['Sbsn.1',1284,610,1258,622,1235,638,0],['Sdc4.1',1416,691,1368,662,1390,678,0],
['Ctss.2',362,693,313,698,309,720,1],['Ahnak.2',478,763,450,778,428,792,1],['Tgfbi.2',96,787,150,758,150,780,1],['Psap.2',312,828,367,802,367,824,1],['Crip1.2',66,871,115,845,92,860,1],['Pcsk1n.1',572,264,600,277,623,292,1],['Tac1.1',879,264,930,267,934,292,1],['Stmn2.1',760,348,787,360,810,375,1],['Sncg.1',877,414,830,385,853,402,1],['Calca.2',1103,346,1052,318,1077,333,1]];
annL.forEach(a=>{const ox=a[7]?1771:0,zx=d=>ox+d*1.1295,zy=d=>1800+d*1.084;
  line(P,'gene-annotation-leader',zx(a[3]),zy(a[4]),zx(a[5]),zy(a[6]),3.5);
  txt(P,'gene-annotation',zx(a[1]),zy(a[2]),a[0],{size:29,sq:1.19,anchor:'middle',mid:1});});
sigLegendLabels.forEach((n,i)=>{const y=2600+i*49;dot(P,'significance-legend-swatch',3209,y,15,11,i?NOT:SIG);
  txt(P,'significance-legend-label',3264,y,n,{size:29,w:i?113:49,mid:1,fill:'#111'});});
})();

/* ---- D ---- */
(function(){const P=$('pd');
const cx=747,cy=4307.5,rX=p=>p*640,rY=p=>p*617;
const colors=['#440154','#31688E','#35B779','#FDE725'];
roseGrid.forEach(g=>{const e=mk('ellipse',{cx:cx,cy:cy,rx:rX(g),ry:rY(g),fill:'none',stroke:'#EBEBEB','stroke-width':2},P);
  
  });
line(P,'rose-grid-spoke',136,cy,cx,cy,2,'#EBEBEB');
line(P,'rose-grid-spoke',cx,cy,1353,cy,2,'#EBEBEB');
function wedge(arr,side,cond){let total=arr.reduce((a,b)=>a+b,0);
  arr.forEach((v,i)=>{if(v<=0)return;const rx=rX(total),ry=rY(total);
    const p=mk('path',{d:'M'+cx+' '+(cy-ry)+'A'+rx+' '+ry+' 0 0 '+(side>0?1:0)+' '+cx+' '+(cy+ry)+'Z',fill:colors[i],stroke:'#fff','stroke-width':3},P);
    
    
    total-=v;});}
wedge(roseNormal,-1,'normal');
wedge(roseDiabetes,1,'diabetes');
txt(P,'rose-title',cx,3603,'Cell Type Composition − Rose Plot',{size:36,bold:1,w:565,anchor:'middle'});
txt(P,'rose-label-normal',104,cy,'normal',{size:23,w:61,anchor:'middle',mid:1,fill:'#4d4d4d'});
txt(P,'rose-label-diabetes',1388,cy,'diabetes',{size:23,w:73,anchor:'middle',mid:1,fill:'#4d4d4d'});
txt(P,'rose-y-axis-title',19,cy,'Proportion',{size:25,w:105,anchor:'middle',rot:-90});
txt(P,'rose-legend-title',1495,4238,'Cell Type',{size:28,w:96});
const sw=[4255,4291,4326,4362],lw=[113,36,93,72];
roseTypes.forEach((n,i)=>{box(P,'rose-legend-swatch',1498,sw[i],32,30,colors[i]);
  txt(P,'rose-legend-label',1544,sw[i]+15,n,{size:23,w:lw[i],mid:1,fill:'#111'});});
})();

/* ---- E ---- */
(function(){const P=$('pe');
const xE=i=>2157+378.5*i, yE=i=>3844+195.3*i;
const rxP=p=>p*.23, ryP=p=>p*.32;
function avgColor(v){const t=Math.max(0,Math.min(1,(v+.91)/2.42));const stops=[[211,211,211],[168,147,226],[106,77,240],[0,0,255]];
  const s=t*3,k=Math.min(2,Math.floor(s)),f=s-k;const c=[0,1,2].map(n=>Math.round(stops[k][n]+(stops[k+1][n]-stops[k][n])*f));return 'rgb('+c.join(',')+')';}
const pct=[dotPercentNeurons,dotPercentMonocytes,dotPercentNPs,dotPercentGranulocytes];
const avg=[dotAvgNeurons,dotAvgMonocytes,dotAvgNPs,dotAvgGranulocytes];
line(P,'dot-y-axis',1931,3725,1931,4548,3);
line(P,'dot-x-axis',1930,4547,3142,4547,3);
const idW=[72,93,36,112];
dotIdentities.forEach((n,r)=>{line(P,'dot-y-tick',1924,yE(r),1931,yE(r),3);
  txt(P,'dot-y-tick-label',1919,yE(r),n,{size:28,w:idW[r],anchor:'end',mid:1});
  dotFeatures.forEach((f,c)=>dot(P,'expression-dot-'+n.toLowerCase(),xE(c),yE(r),rxP(pct[r][c]),ryP(pct[r][c]),avgColor(avg[r][c])));});
const fW=[60,92,92];
dotFeatures.forEach((f,c)=>{line(P,'dot-x-tick',xE(c),4547,xE(c),4554,3);
  txt(P,'dot-x-tick-label',xE(c)+9,4569,f,{size:27,w:fW[c],anchor:'end',rot:-52,italic:1});});
txt(P,'dot-x-axis-title',2536,4678,'Features',{size:30,w:86,anchor:'middle'});
txt(P,'dot-y-axis-title',1800,4137,'Identity',{size:24,w:100,anchor:'middle',rot:-90});
txt(P,'percent-legend-title',3164,3923,'Percent Expressed',{size:32,w:186});
const py=[3961,3996,4031,4067,4103];
percentLegend.forEach((p,i)=>{dot(P,'percent-legend-dot',3177,py[i],rxP(p),ryP(p),'#000');
  txt(P,'percent-legend-label',3202,py[i],String(p),{size:28,w:22,mid:1});});
txt(P,'average-legend-title',3164,4182,'Average Expression',{size:32,w:198});
const bar=mk('rect',{x:3164,y:4200,width:24,height:176,fill:'url(#avg-grad)'},P);


const avgText=v=>(v<0?'−':'')+Math.abs(v).toFixed(1);
avgLegend.forEach(v=>{const y=4309-v*72.6;line(P,'average-legend-tick',3180,y,3188,y,1.5,'#fff');line(P,'average-legend-tick',3164,y,3171,y,1.5,'#fff');
  txt(P,'average-legend-label',3199,y,avgText(v),{size:28,sq:.78,mid:1});});
})();
</script>
</body></html>
